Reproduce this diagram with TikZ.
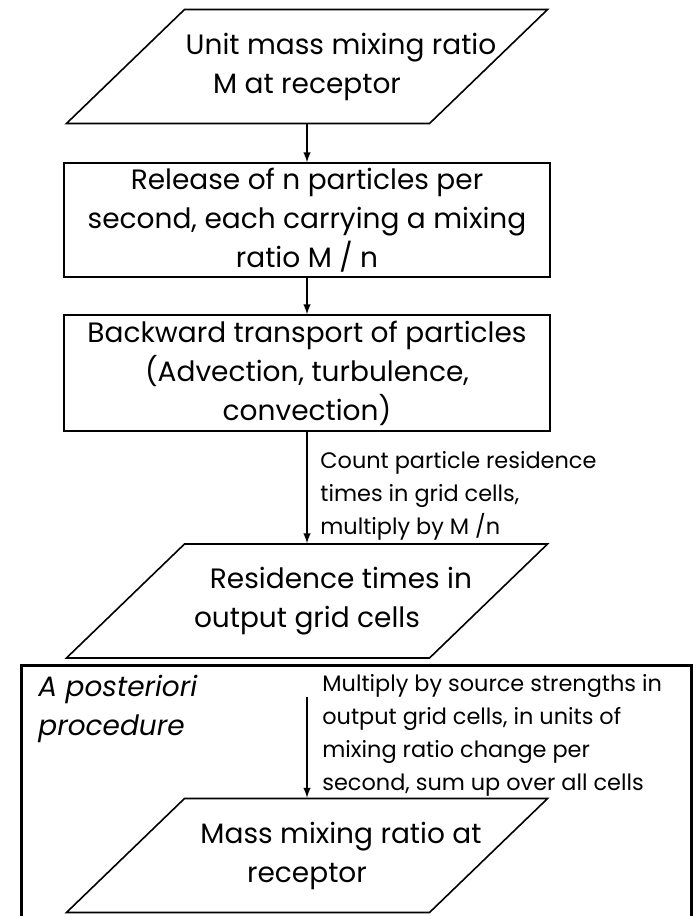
\documentclass[tikz,border=0pt]{standalone}
\usepackage{fontspec}
\setmainfont{Poppins}
\usetikzlibrary{arrows,shapes.geometric}
\newcommand{\boxfont}{\fontsize{14}{19.5}\selectfont}
\newcommand{\lblfont}{\fontsize{11.2}{16.5}\selectfont}
\tikzset{iobox/.style={trapezium, trapezium left angle=44, trapezium right angle=136, draw, line width=0.8pt, inner xsep=61.25pt, inner ysep=28.5pt}}
\tikzset{iotext/.style={align=center, inner sep=0pt, font=\boxfont}}
\tikzset{procbox/.style={rectangle, draw, line width=0.8pt, minimum width=243pt, minimum height=57pt, inner sep=0pt, align=center, font=\boxfont}}
\tikzset{arr/.style={draw, -latex, line width=0.7pt}}
\tikzset{lbl/.style={anchor=north west, inner sep=0pt, align=left, font=\lblfont}}

\begin{document}
\begin{tikzpicture}[x=0.5pt,y=-0.5pt]
		\clip (0,0) rectangle (697,916);

		\node[iobox] (unit) at (307,66.5) {};
		\node[iotext] (unit-txt) at (unit) {\hspace*{34pt}Unit mass mixing ratio\\M at receptor};
		\node[procbox] (rel) at (307,220) {Release of n particles per\\second, each carrying a mixing\\ratio M / n};
		\node[procbox, minimum height=58pt] (bwd) at (307,373) {Backward transport of particles\\(Advection, turbulence,\\convection)};
		\node[iobox] (res) at (307,601) {};
		\node[iotext] (res-txt) at (res) {\hspace*{34pt}Residence times in\\output grid cells};

		% a posteriori part
		\node[draw, line width=1.5pt, anchor=north west, minimum width=335pt, minimum height=140pt] (post) at (20,664) {};
		\node[lbl, font=\boxfont\itshape] (post-lbl) at (38,675) {A posteriori\\procedure};
		\node[iobox] (mmr) at (307,855.5) {};
		\node[iotext] (mmr-txt) at (mmr) {\hspace*{34pt}Mass mixing ratio at\\receptor};
		\coordinate (mul) at (307,697);

		\node[lbl] (cnt-lbl) at (320,451) {Count particle residence\\times in grid cells,\\multiply by M /n};
		\node[lbl] (mul-lbl) at (322,674) {Multiply by source strengths in\\output grid cells, in units of\\mixing ratio change per\\second, sum up over all cells};

		\draw[arr] (unit) -- (rel);
		\draw[arr] (rel) -- (bwd);
		\draw[arr] (bwd) -- (res);
		\draw[arr] (mul) -- (mmr);
\end{tikzpicture}
\end{document}
